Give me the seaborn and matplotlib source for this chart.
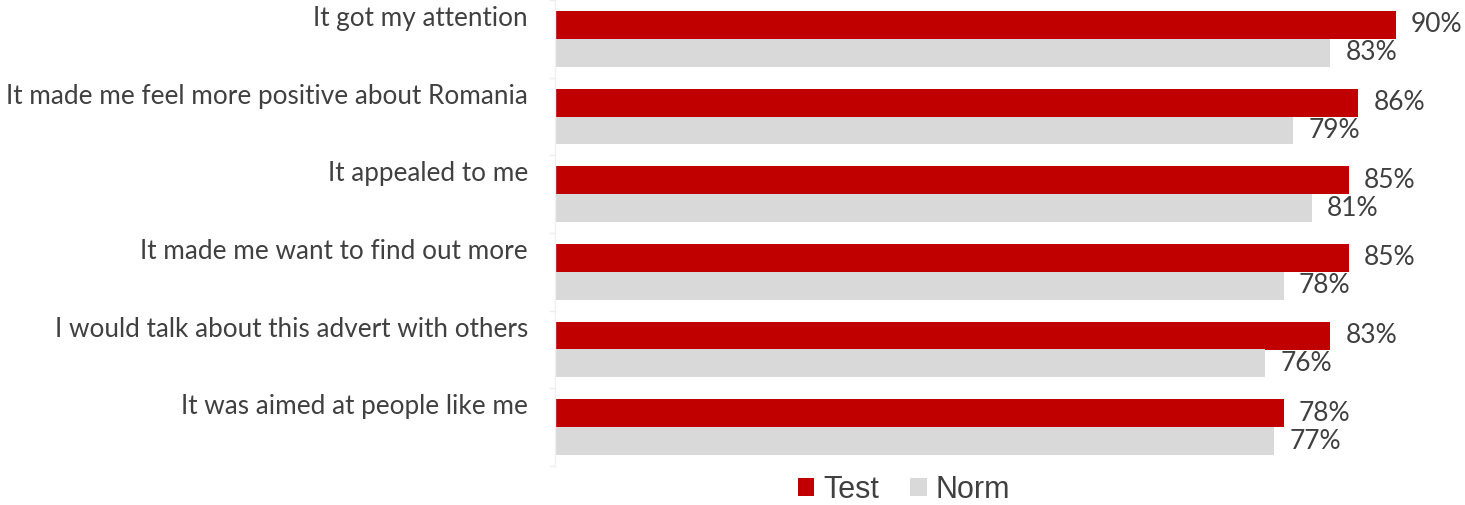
import numpy as np
import pandas as pd
import matplotlib
matplotlib.use("Agg")
import matplotlib.pyplot as plt
import matplotlib.transforms as mtransforms
from matplotlib.patches import Patch
import seaborn as sns

categories = [
    "It got my attention",
    "It made me feel more positive about Romania",
    "It appealed to me",
    "It made me want to find out more",
    "I would talk about this advert with others",
    "It was aimed at people like me",
]
test_values = [90, 86, 85, 85, 83, 78]
norm_values = [83, 79, 81, 78, 76, 77]
series_names = ["Test", "Norm"]
series_colors = ["#C00000", "#D9D9D9"]

df = pd.DataFrame({
    "Statement": categories * 2,
    "Series": [series_names[0]] * len(categories) + [series_names[1]] * len(categories),
    "Value": test_values + norm_values,
})

sns.set_style("white")
plt.rcParams["font.family"] = ["Lato", "DejaVu Sans"]

W, H = 1465, 505
fig = plt.figure(figsize=(W / 100, H / 100), dpi=100)
ax = fig.add_axes([555 / W, 39 / H, 906 / W, 466 / H])

sns.barplot(
    data=df, y="Statement", x="Value", hue="Series", order=categories,
    hue_order=series_names, palette=series_colors, orient="h",
    width=0.72, linewidth=0, saturation=1, legend=False, ax=ax,
)

ax.set_xlim(0, 97)
ax.set_ylim(len(categories) - 0.5, -0.5)
ax.set_xlabel("")
ax.set_ylabel("")
ax.set_xticks([])

# category boundary ticks on a faint left axis line
ax.set_yticks(np.arange(-0.5, len(categories), 1.0))
ax.set_yticklabels([])
ax.tick_params(axis="y", length=4, width=1, color="#EEEEEE", left=True)
for side in ["top", "right", "bottom"]:
    ax.spines[side].set_visible(False)
ax.spines["left"].set_color("#F0F0F0")
ax.spines["left"].set_linewidth(1)

text_color = "#404040"
trans = mtransforms.blended_transform_factory(ax.transAxes, ax.transData)
for i, name in enumerate(categories):
    ax.text(-27 / 906, i - 0.26, name, transform=trans, ha="right", va="center",
            fontsize=18.8, color=text_color)

# value labels next to each bar
for container, values in zip(ax.containers, [test_values, norm_values]):
    for bar, v in zip(container, values):
        y = bar.get_y() + bar.get_height() / 2
        ax.annotate(f"{v}%", xy=(bar.get_width(), y), xytext=(11, 0),
                    textcoords="offset points", ha="left", va="center",
                    fontsize=19, color=text_color)

handles = [Patch(facecolor=c, edgecolor="none", label=n)
           for n, c in zip(series_names, series_colors)]
fig.legend(handles=handles, loc="center", bbox_to_anchor=(904 / W, 1 - 490 / H),
           ncol=2, frameon=False, handlelength=0.55, handleheight=0.55,
           handletextpad=0.3, columnspacing=1.0,
           prop={"family": "Liberation Sans", "size": 22}, labelcolor=text_color)

fig.savefig("out.png", dpi=100)
